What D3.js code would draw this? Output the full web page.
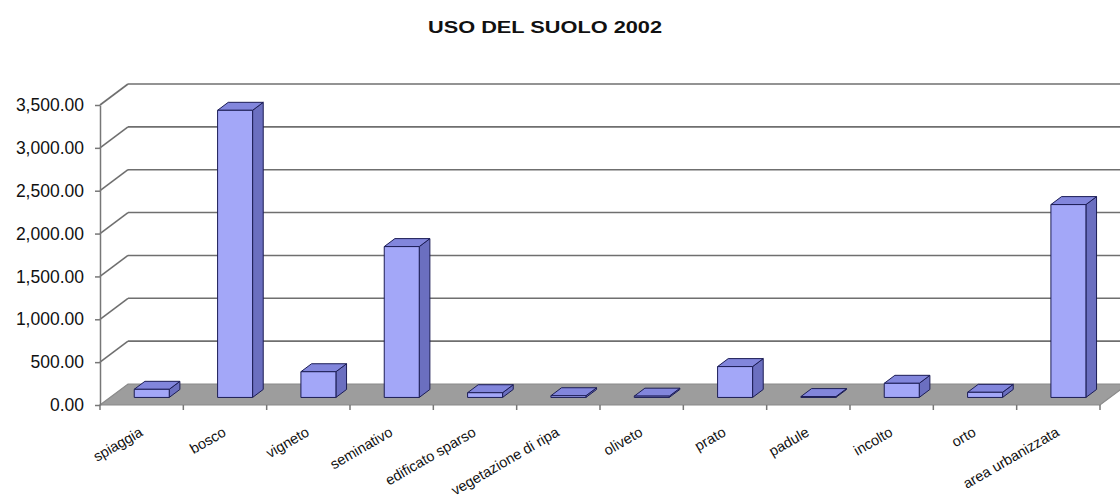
<!DOCTYPE html>
<html>

<head>
    <meta charset="utf-8">
    <style>
        body {
            margin: 0;
            background: #fff;
        }

        svg {
            display: block;
            font-family: "Liberation Sans", Arial, sans-serif;
        }

        .y .domain {
            stroke: #777;
            stroke-width: 1.5;
        }

        .y .tick line {
            stroke: #777;
            stroke-width: 1.5;
        }

        .y .tick text {
            font-size: 17.5px;
            fill: #111;
        }

        .grid line {
            stroke: #6f6f6f;
            stroke-width: 1.6;
        }
    </style>
</head>

<body>
    <svg width="1120" height="497"></svg>

    <script src="https://cdn.jsdelivr.net/npm/d3@7/dist/d3.min.js"></script>
    <script>
        // values
        let categories = ["spiaggia", "bosco", "vigneto", "seminativo", "edificato sparso",
            "vegetazione di ripa", "oliveto", "prato", "padule", "incolto", "orto", "area urbanizzata"];
        let values = [95, 3350, 300, 1760, 55, 20, 15, 360, 10, 165, 60, 2250];
        let yTicks = [0, 500, 1000, 1500, 2000, 2500, 3000, 3500];

        let svg = d3.select("svg");

        let plotLeft = 100, plotRight = 1100, plotBottom = 405, plotTop = 105;
        let depth = { x: 28, y: -21 };      // back wall offset
        let barFront = 0.36, barDepth = 0.38; // bar position inside the depth

        let x = d3.scaleBand()
            .domain(categories)
            .range([plotLeft, plotRight])
            .paddingInner(0.58)
            .paddingOuter(0.29);

        let slot = d3.scaleBand().domain(categories).range([plotLeft, plotRight]);

        let y = d3.scaleLinear()
            .domain([0, 3500])
            .range([plotBottom, plotTop]);

        // title (the original is a bit stretched sideways)
        svg.append("text")
            .attr("transform", "translate(545,33) scale(1.28,1)")
            .attr("text-anchor", "middle")
            .attr("font-size", "17px")
            .attr("font-weight", "bold")
            .attr("fill", "#111")
            .text("USO DEL SUOLO 2002");

        // back wall gridlines + side diagonals
        let grid = svg.append("g").attr("class", "grid");
        grid.selectAll(".back")
            .data(yTicks.slice(1))
            .join("line")
            .attr("class", "back")
            .attr("x1", plotLeft + depth.x)
            .attr("x2", plotRight + depth.x)
            .attr("y1", d => y(d) + depth.y)
            .attr("y2", d => y(d) + depth.y);

        grid.selectAll(".side")
            .data(yTicks.slice(1))
            .join("line")
            .attr("class", "side")
            .attr("x1", plotLeft)
            .attr("x2", plotLeft + depth.x)
            .attr("y1", d => y(d))
            .attr("y2", d => y(d) + depth.y);

        // floor
        let y0 = y(0);
        svg.append("polygon")
            .attr("points", [
                [plotLeft, y0], [plotRight, y0],
                [plotRight + depth.x, y0 + depth.y], [plotLeft + depth.x, y0 + depth.y]
            ].map(p => p.join(",")).join(" "))
            .attr("fill", "#9d9d9d")
            .attr("stroke", "#8a8a8a")
            .attr("stroke-width", 1.2);

        // x ticks below the floor
        svg.append("g")
            .selectAll("line")
            .data(d3.range(categories.length + 1))
            .join("line")
            .attr("x1", i => plotLeft + i * slot.step())
            .attr("x2", i => plotLeft + i * slot.step())
            .attr("y1", y0)
            .attr("y2", y0 + 5)
            .attr("stroke", "#777")
            .attr("stroke-width", 1.5);

        // y axis
        let yAxisSettings = d3.axisLeft(y)
            .tickValues(yTicks)
            .tickFormat(d3.format(",.2f"))
            .tickSize(5)
            .tickPadding(11)
            .tickSizeOuter(0);

        svg.append("g")
            .attr("class", "y axis")
            .attr("transform", `translate(${plotLeft},0)`)
            .call(yAxisSettings);

        // 3d bars
        let fx = depth.x * barFront, fy = depth.y * barFront;
        let bx = depth.x * barDepth, by = depth.y * barDepth;
        let data = categories.map((c, i) => ({ cat: c, value: values[i] }));

        let bars = svg.append("g")
            .selectAll("g")
            .data(data)
            .join("g")
            .attr("stroke", "#1c1d55")
            .attr("stroke-width", 1)
            .attr("stroke-linejoin", "round");

        // side face
        bars.append("polygon")
            .attr("fill", "#6b6fc0")
            .attr("points", d => {
                let x1 = x(d.cat) + fx + x.bandwidth();
                let yb = y(0) + fy, yt = y(d.value) + fy;
                return [[x1, yb], [x1 + bx, yb + by], [x1 + bx, yt + by], [x1, yt]].map(p => p.join(",")).join(" ");
            });

        // top face
        bars.append("polygon")
            .attr("fill", "#8286dc")
            .attr("points", d => {
                let x0 = x(d.cat) + fx, x1 = x0 + x.bandwidth();
                let yt = y(d.value) + fy;
                return [[x0, yt], [x1, yt], [x1 + bx, yt + by], [x0 + bx, yt + by]].map(p => p.join(",")).join(" ");
            });

        // front face
        bars.append("rect")
            .attr("fill", "#a3a7f8")
            .attr("x", d => x(d.cat) + fx)
            .attr("width", x.bandwidth())
            .attr("y", d => y(d.value) + fy)
            .attr("height", d => y(0) - y(d.value));

        // category labels
        svg.append("g")
            .selectAll("text")
            .data(categories)
            .join("text")
            .attr("text-anchor", "end")
            .attr("font-size", "14.5px")
            .attr("fill", "#111")
            .attr("transform", d => `translate(${slot(d) + slot.bandwidth() / 2 + 2},435) rotate(-30)`)
            .text(d => d);
    </script>
</body>

</html>
